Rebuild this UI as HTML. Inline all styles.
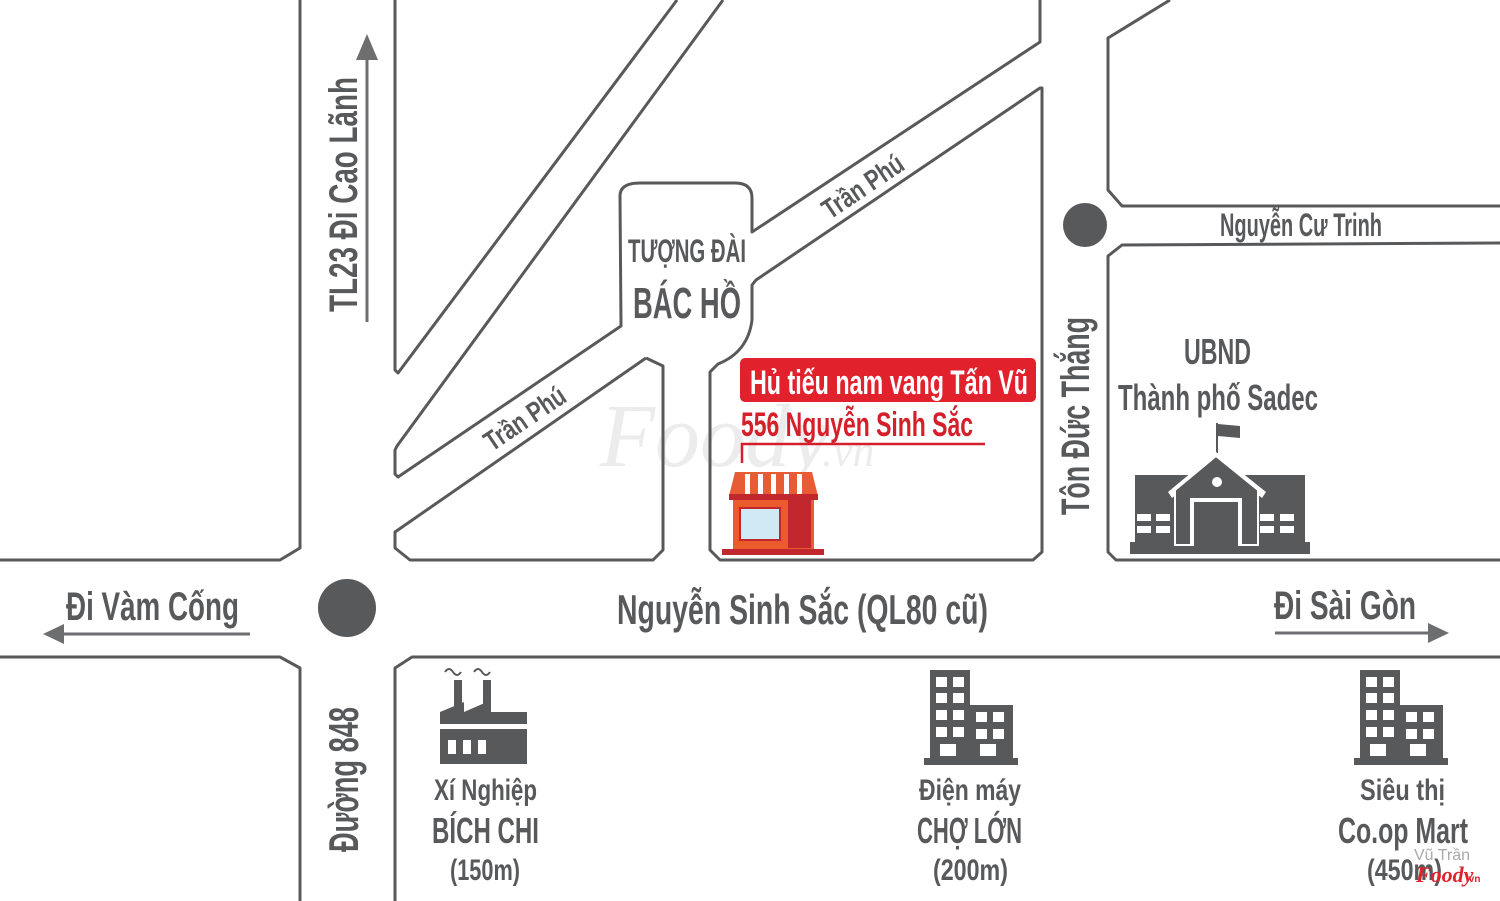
<!DOCTYPE html>
<html><head><meta charset="utf-8"><style>
html,body{margin:0;padding:0;background:#fff;}
svg{display:block;}
text{font-family:"Liberation Sans Narrow","Liberation Sans",sans-serif;fill:#58595b;font-weight:bold;}
</style></head><body>
<svg width="1500" height="901" viewBox="0 0 1500 901" xmlns="http://www.w3.org/2000/svg">
<text x="600" y="466" font-size="90" style="fill:#ececec;font-family:'Liberation Serif',serif;font-style:italic;font-weight:normal">Foody</text>
<text x="822" y="466" font-size="44" style="fill:#ececec;font-family:'Liberation Serif',serif;font-style:italic;font-weight:normal">.vn</text>
<g fill="none" stroke="#58595b" stroke-width="3" stroke-linejoin="round">
<path d="M0,560 L280,560 L300,548 L300,0"/>
<path d="M0,657 L280,657 L300,668 L300,901"/>
<path d="M395,0 L395,370 L398,373 L677,0"/>
<path d="M723,0 L397,446 L395,450 L395,474 L398,477 L621,326 L620,196 Q620,183 640,183 L735,183 Q752,183 752,198 L752,232 L1040,42 L1040,0"/>
<path d="M646,358 L663,366 L663,550 L653,560 L410,560 L395,548 L395,532 L646,358"/>
<path d="M1040,88 L756,280 L752,285 L752,320 Q748,352 718,364 L710,372 L710,550 L720,560 L1033,560 L1042,552 L1042,88 Z"/>
<path d="M1170,0 L1108,38 L1108,190 L1122,206 L1500,206"/>
<path d="M1500,243 L1122,245 L1108,256 L1108,552 L1116,560 L1500,560"/>
<path d="M395,901 L395,668 L412,657 L1500,657"/>
</g>
<circle cx="347" cy="608" r="29" fill="#58595b"/>
<circle cx="1085" cy="225" r="22" fill="#58595b"/>
<g stroke="#6d6e70" stroke-width="3">
<line x1="367" y1="322" x2="367" y2="55"/>
<line x1="250" y1="634" x2="60" y2="634"/>
<line x1="1275" y1="633" x2="1432" y2="633"/>
</g>
<polygon points="356,60 378,60 367,34" fill="#6d6e70"/>
<polygon points="64,624 64,644 43,634" fill="#6d6e70"/>
<polygon points="1428,623 1428,643 1449,633" fill="#6d6e70"/>
<text x="617" y="624" font-size="42" textLength="371" lengthAdjust="spacingAndGlyphs">Nguyễn Sinh Sắc (QL80 cũ)</text>
<text x="66" y="620" font-size="40" textLength="173" lengthAdjust="spacingAndGlyphs">Đi Vàm Cống</text>
<text x="1274" y="619" font-size="40" textLength="142" lengthAdjust="spacingAndGlyphs">Đi Sài Gòn</text>
<text x="1220" y="236" font-size="32" textLength="162" lengthAdjust="spacingAndGlyphs">Nguyễn Cư Trinh</text>
<text transform="translate(357,312) rotate(-90)" font-size="40" textLength="235" lengthAdjust="spacingAndGlyphs">TL23 Đi Cao Lãnh</text>
<text transform="translate(358,852) rotate(-90)" font-size="42" textLength="145" lengthAdjust="spacingAndGlyphs">Đường 848</text>
<text transform="translate(1089,515) rotate(-90)" font-size="40" textLength="198" lengthAdjust="spacingAndGlyphs">Tôn Đức Thắng</text>
<text transform="translate(492,452) rotate(-34)" font-size="28" textLength="92" lengthAdjust="spacingAndGlyphs">Trần Phú</text>
<text transform="translate(830,220) rotate(-34)" font-size="28" textLength="92" lengthAdjust="spacingAndGlyphs">Trần Phú</text>
<text x="628" y="262" font-size="32" textLength="118" lengthAdjust="spacingAndGlyphs">TƯỢNG ĐÀI</text>
<text x="633" y="318" font-size="44" textLength="108" lengthAdjust="spacingAndGlyphs">BÁC HỒ</text>
<text x="1184" y="364" font-size="36" textLength="67" lengthAdjust="spacingAndGlyphs">UBND</text>
<text x="1118" y="410" font-size="36" textLength="200" lengthAdjust="spacingAndGlyphs">Thành phố Sadec</text>
<rect x="740" y="358" width="296" height="44" rx="5" fill="#e1222d"/>
<text x="750" y="394" font-size="34" style="fill:#fff" textLength="278" lengthAdjust="spacingAndGlyphs">Hủ tiếu nam vang Tấn Vũ</text>
<text x="741" y="436" font-size="34" style="fill:#d5202b" textLength="232" lengthAdjust="spacingAndGlyphs">556 Nguyễn Sinh Sắc</text>
<polyline points="985,444 742,444 742,463" fill="none" stroke="#d5202b" stroke-width="2.5"/>
<g>
<path d="M735,472 L812,472 L818,496 L729,496 Z" fill="#e85c35"/>
<g fill="#fff"><rect x="745" y="474" width="5" height="20"/><rect x="758" y="474" width="5" height="20"/><rect x="771" y="474" width="5" height="20"/><rect x="784" y="474" width="5" height="20"/><rect x="797" y="474" width="5" height="20"/></g>
<rect x="729" y="494" width="89" height="6" fill="#c1272d"/>
<rect x="733" y="500" width="81" height="50" fill="#ec5b2b"/>
<rect x="740" y="508" width="40" height="32" fill="#cfeaf5" stroke="#c1272d" stroke-width="2"/>
<rect x="788" y="500" width="23" height="48" fill="#c1272d"/>
<rect x="722" y="549" width="102" height="6" fill="#c1272d"/>
</g>
<g fill="#58595b">
<rect x="1216" y="423" width="2" height="30"/>
<path d="M1218,424 L1240,426 L1240,438 L1218,436 Z"/>
<rect x="1135" y="475" width="170" height="72"/>
<rect x="1130" y="542" width="180" height="12"/>
<path d="M1168,492 L1216,452 L1266,492 L1262,498 L1216,462 L1172,498 Z" fill="#fff"/>
<path d="M1175,490 L1216,456 L1258,490 L1258,545 L1175,545 Z" fill="#58595b" stroke="#fff" stroke-width="2"/>
<rect x="1190" y="498" width="52" height="47" fill="#fff"/>
<rect x="1194" y="502" width="44" height="44" fill="#58595b"/>
<circle cx="1217" cy="482" r="5" fill="#fff"/>
<g fill="#fff"><rect x="1137" y="514" width="14" height="7"/><rect x="1156" y="514" width="14" height="7"/><rect x="1137" y="526" width="14" height="7"/><rect x="1156" y="526" width="14" height="7"/><rect x="1260" y="514" width="14" height="7"/><rect x="1280" y="514" width="14" height="7"/><rect x="1260" y="526" width="14" height="7"/><rect x="1280" y="526" width="14" height="7"/></g>
</g>
<g fill="#58595b">
<rect x="454" y="680" width="8" height="35"/><rect x="483" y="680" width="8" height="35"/>
<path d="M440,724 L440,712 L464,702 L464,712 L487,702 L487,712 L527,712 L527,724 Z"/>
<rect x="440" y="729" width="87" height="35"/>
<g fill="#fff"><rect x="448" y="740" width="8" height="14"/><rect x="463" y="740" width="8" height="14"/><rect x="478" y="740" width="8" height="14"/></g>
<path d="M445,672 q4,-6 8,0 q4,6 8,0 M474,672 q4,-6 8,0 q4,6 8,0" fill="none" stroke="#58595b" stroke-width="2"/>
</g>
<text x="434" y="800" font-size="30" textLength="103" lengthAdjust="spacingAndGlyphs">Xí Nghiệp</text>
<text x="432" y="843" font-size="36" textLength="107" lengthAdjust="spacingAndGlyphs">BÍCH CHI</text>
<text x="450" y="880" font-size="30" textLength="70" lengthAdjust="spacingAndGlyphs">(150m)</text>
<g id="bld" fill="#58595b">
<rect x="930" y="670" width="40" height="94"/><rect x="970" y="705" width="43" height="59"/><rect x="924" y="758" width="94" height="7"/>
<g fill="#fff">
<rect x="936" y="677" width="11" height="10"/><rect x="953" y="677" width="11" height="10"/>
<rect x="936" y="693" width="11" height="10"/><rect x="953" y="693" width="11" height="10"/>
<rect x="936" y="710" width="11" height="10"/><rect x="953" y="710" width="11" height="10"/><rect x="976" y="712" width="11" height="10"/><rect x="993" y="712" width="11" height="10"/>
<rect x="936" y="727" width="11" height="10"/><rect x="953" y="727" width="11" height="10"/><rect x="976" y="729" width="11" height="10"/><rect x="993" y="729" width="11" height="10"/>
<rect x="940" y="744" width="16" height="12"/><rect x="980" y="744" width="16" height="12"/>
</g>
</g>
<use href="#bld" transform="translate(430,0)"/>
<text x="919" y="800" font-size="30" textLength="102" lengthAdjust="spacingAndGlyphs">Điện máy</text>
<text x="917" y="843" font-size="36" textLength="105" lengthAdjust="spacingAndGlyphs">CHỢ LỚN</text>
<text x="933" y="880" font-size="30" textLength="75" lengthAdjust="spacingAndGlyphs">(200m)</text>
<text x="1360" y="800" font-size="30" textLength="85" lengthAdjust="spacingAndGlyphs">Siêu thị</text>
<text x="1338" y="843" font-size="36" textLength="130" lengthAdjust="spacingAndGlyphs">Co.op Mart</text>
<text x="1367" y="880" font-size="30" textLength="75" lengthAdjust="spacingAndGlyphs">(450m)</text>
<text x="1414" y="860" font-size="16" style="fill:#aaa;font-family:'Liberation Sans',sans-serif;font-weight:normal">Vũ Trần</text>
<text x="1416" y="882" font-size="22" style="fill:#e1222d;font-family:'Liberation Serif',serif;font-style:italic">Foody</text>
<text x="1466" y="882" font-size="10" style="fill:#e1222d">.vn</text>
</svg>
</body></html>
